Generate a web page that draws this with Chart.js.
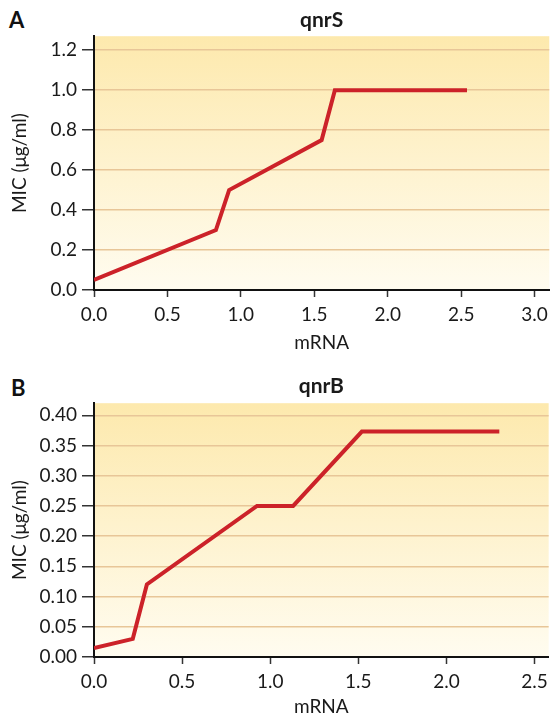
<!DOCTYPE html>
<html>
<head>
<meta charset="utf-8">
<script src="https://cdn.jsdelivr.net/npm/chart.js@4.4.1/dist/chart.umd.min.js"></script>
<style>
  body { margin: 0; background: #fff; width: 554px; height: 718px; position: relative; overflow: hidden; }
  .panel { position: absolute; left: 0; width: 554px; }
  .letter { position: absolute; font-family: Lato, sans-serif; font-weight: 700; font-size: 22px; color: #111; line-height: 1; }
</style>
</head>
<body>
<div class="letter" style="left:9px; top:9px;">A</div>
<div class="panel" style="top:0; height:360px;"><canvas id="chartA"></canvas></div>
<div class="letter" style="left:11px; top:377px;">B</div>
<div class="panel" style="top:360px; height:358px;"><canvas id="chartB"></canvas></div>
<script>
// panel A - qnrS
const mrnaA = [0.0, 0.83, 0.92, 1.55, 1.64, 2.54];
const micA = [0.05, 0.30, 0.50, 0.75, 1.00, 1.00];
const xTicksA = [0, 0.5, 1.0, 1.5, 2.0, 2.5, 3.0];
const yTicksA = [0, 0.2, 0.4, 0.6, 0.8, 1.0, 1.2];

// panel B - qnrB
const mrnaB = [0.0, 0.22, 0.30, 0.925, 1.13, 1.52, 2.30];
const micB = [0.015, 0.03, 0.12, 0.25, 0.25, 0.373, 0.373];
const xTicksB = [0, 0.5, 1.0, 1.5, 2.0, 2.5];
const yTicksB = [0, 0.05, 0.10, 0.15, 0.20, 0.25, 0.30, 0.35, 0.40];

const FONT = 'Lato, sans-serif';
const TEXT = '#1a1a1a';

const bgPlugin = {
  id: 'plotBg',
  beforeDraw(chart) {
    const a = chart.chartArea;
    const ctx = chart.ctx;
    const g = ctx.createLinearGradient(0, a.top, 0, a.bottom);
    g.addColorStop(0, '#fde9ad');
    g.addColorStop(1, '#fffcf0');
    ctx.save();
    ctx.fillStyle = g;
    ctx.fillRect(a.left, a.top, a.right - a.left, a.bottom - a.top);
    ctx.restore();
  }
};

function makeChart(id, opts) {
  const ctx = document.getElementById(id);
  return new Chart(ctx, {
    type: 'line',
    data: {
      datasets: [{
        data: opts.xs.map((x, i) => ({ x: x, y: opts.ys[i] })),
        borderColor: '#cc2229',
        borderWidth: 4,
        pointRadius: 0,
        tension: 0,
        fill: false
      }]
    },
    options: {
      responsive: true,
      maintainAspectRatio: false,
      animation: false,
      layout: { padding: 0 },
      plugins: {
        legend: { display: false },
        tooltip: { enabled: false },
        title: {
          display: true,
          text: opts.title,
          fullSize: false,
          color: TEXT,
          font: { family: FONT, size: 21, weight: 'bold' },
          padding: opts.titlePad
        }
      },
      scales: {
        x: {
          type: 'linear',
          min: 0,
          max: opts.xMax,
          afterBuildTicks: axis => { axis.ticks = opts.xTicks.map(v => ({ value: v })); },
          afterFit: axis => { axis.height = opts.xAxisH; },
          border: { color: '#111', width: 2 },
          grid: { drawOnChartArea: false, tickLength: 7, tickColor: '#333', tickWidth: 1.5 },
          ticks: {
            color: TEXT,
            padding: 6,
            maxRotation: 0,
            font: { family: FONT, size: 19 },
            callback: v => Number(v).toFixed(1)
          },
          title: {
            display: true,
            text: 'mRNA',
            color: TEXT,
            font: { family: FONT, size: 19 },
            padding: opts.xTitlePad
          }
        },
        y: {
          type: 'linear',
          min: 0,
          max: opts.yMax,
          afterBuildTicks: axis => { axis.ticks = opts.yTicks.map(v => ({ value: v })); },
          afterFit: axis => { axis.width = 94; },
          border: { color: '#111', width: 2 },
          grid: { color: '#e8c698', lineWidth: 1.5, tickLength: 12, tickColor: '#333', tickWidth: 1.5 },
          ticks: {
            color: TEXT,
            padding: 5,
            font: { family: FONT, size: 19 },
            callback: v => Number(v).toFixed(opts.yDec)
          },
          title: {
            display: true,
            text: 'MIC (\u03bcg/ml)',
            color: TEXT,
            font: { family: FONT, size: 19 },
            padding: { top: 8, bottom: 0 }
          }
        }
      }
    },
    plugins: [bgPlugin]
  });
}

makeChart('chartA', {
  xs: mrnaA, ys: micA, xTicks: xTicksA, yTicks: yTicksA,
  xMax: 3.1, yMax: 1.27, yDec: 1, title: 'qnrS',
  titlePad: { top: 8, bottom: 3 }, xAxisH: 70, xTitlePad: { top: 2, bottom: 6 }
});

makeChart('chartB', {
  xs: mrnaB, ys: micB, xTicks: xTicksB, yTicks: yTicksB,
  xMax: 2.58, yMax: 0.42, yDec: 2, title: 'qnrB',
  titlePad: { top: 14, bottom: 4 }, xAxisH: 61, xTitlePad: { top: 2, bottom: 0 }
});
</script>
</body>
</html>
